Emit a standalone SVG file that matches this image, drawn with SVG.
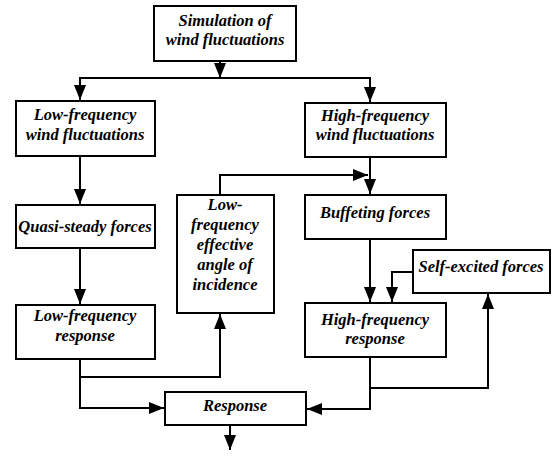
<svg xmlns="http://www.w3.org/2000/svg" width="556" height="462" viewBox="0 0 556 462">
<style>
rect{fill:#fff;stroke:#000;stroke-width:2}
text{font-family:"Liberation Serif","Times New Roman",serif;font-weight:bold;font-style:italic;font-size:16.5px;text-anchor:middle;fill:#000}
.c path{fill:none;stroke:#000;stroke-width:2}
</style>
<defs>
<marker id="ah" markerUnits="userSpaceOnUse" markerWidth="16" markerHeight="12" refX="15" refY="6" orient="auto">
<path d="M0,0 L15,6 L0,12 Z" fill="#000"/>
</marker>
</defs>
<g class="c" id="connectors">
<path d="M220,61 V78" marker-end="url(#ah)"/>
<path d="M220,78 H80 V100" marker-end="url(#ah)"/>
<path d="M220,78 H370 V102" marker-end="url(#ah)"/>
<path d="M80,156 V204" marker-end="url(#ah)"/>
<path d="M80,248 V304" marker-end="url(#ah)"/>
<path d="M220,195 V175 H368" marker-end="url(#ah)"/>
<path d="M370,157 V194" marker-end="url(#ah)"/>
<path d="M370,239 V302" marker-end="url(#ah)"/>
<path d="M413,272 H392 V302" marker-end="url(#ah)"/>
<path d="M80,359 V377 H220 V314" marker-end="url(#ah)"/>
<path d="M80,377 V408 H164" marker-end="url(#ah)"/>
<path d="M370,357 V388 H488 V294" marker-end="url(#ah)"/>
<path d="M370,388 V409 H307" marker-end="url(#ah)"/>
<path d="M230,425 V450" marker-end="url(#ah)"/>
</g>
<g id="sim"><rect x="154" y="6" width="142" height="55"/><text x="225" y="26">Simulation of</text><text x="225" y="45">wind fluctuations</text></g>
<g id="lowwind"><rect x="16" y="101" width="139" height="55"/><text x="85" y="120">Low-frequency</text><text x="85" y="140">wind fluctuations</text></g>
<g id="highwind"><rect x="305" y="103" width="141" height="54"/><text x="375" y="121">High-frequency</text><text x="375" y="140">wind fluctuations</text></g>
<g id="quasi"><rect x="16" y="205" width="139" height="43"/><text x="85" y="232">Quasi-steady forces</text></g>
<g id="angle"><rect x="177" y="195" width="97" height="118"/><text x="225" y="210">Low-</text><text x="225" y="230">frequency</text><text x="225" y="250">effective</text><text x="225" y="270">angle of</text><text x="225" y="290">incidence</text></g>
<g id="buffeting"><rect x="305" y="195" width="141" height="44"/><text x="375" y="218">Buffeting forces</text></g>
<g id="selfexcited"><rect x="413" y="250" width="137" height="43"/><text x="481" y="272">Self-excited forces</text></g>
<g id="lowresp"><rect x="16" y="305" width="139" height="54"/><text x="85" y="321">Low-frequency</text><text x="85" y="341">response</text></g>
<g id="highresp"><rect x="305" y="303" width="141" height="54"/><text x="375" y="325">High-frequency</text><text x="375" y="344">response</text></g>
<g id="response"><rect x="165" y="392" width="141" height="33"/><text x="235" y="411">Response</text></g>
</svg>
